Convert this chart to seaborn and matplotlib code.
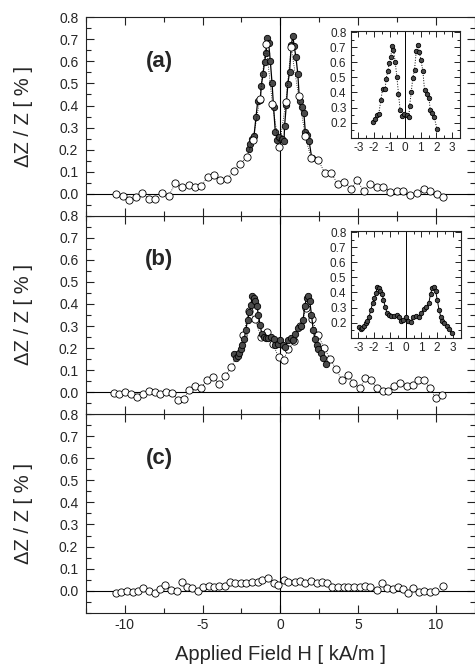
import numpy as np
import pandas as pd
import matplotlib
matplotlib.use("Agg")
import matplotlib.pyplot as plt
import seaborn as sns
from matplotlib.ticker import MultipleLocator

# ---------------- data ----------------
open_a_x = [-10.57, -10.14, -9.71, -9.30, -8.90, -8.47, -8.06, -7.61, -7.18, -6.75,
            -6.33, -5.90, -5.47, -5.10, -4.68, -4.28, -3.86, -3.43, -3.00, -2.60,
            -2.15, -1.75, -1.31, -0.92, -0.50, -0.07, 0.36, 0.70, 1.18, 1.62,
            1.98, 2.43, 2.87, 3.28, 3.71, 4.13, 4.57, 4.93, 5.36, 5.79,
            6.21, 6.64, 7.07, 7.50, 7.93, 8.36, 8.78, 9.22, 9.65, 10.07, 10.50]
open_a_y = [0.0, -0.01, -0.03, -0.014, 0.005, -0.023, -0.023, 0.005, -0.01, 0.047,
            0.03, 0.04, 0.032, 0.033, 0.077, 0.087, 0.064, 0.067, 0.105, 0.135,
            0.167, 0.245, 0.43, 0.68, 0.405, 0.21, 0.416, 0.665, 0.443, 0.26,
            0.16, 0.155, 0.093, 0.093, 0.043, 0.055, 0.022, 0.06, 0.014, 0.044,
            0.032, 0.032, 0.009, 0.014, 0.014, -0.005, 0.001, 0.022, 0.011, -0.001, -0.017]

fill_a_x = [-2.04, -1.93, -1.82, -1.69, -1.56, -1.45, -1.28, -1.22, -1.11, -1.01,
            -0.92, -0.85, -0.75, -0.64, -0.53, -0.43, -0.32, -0.19, -0.06, 0.11,
            0.24, 0.28, 0.39, 0.49, 0.60, 0.71, 0.81, 0.90, 1.01, 1.13,
            1.24, 1.39, 1.52, 1.61, 1.73, 1.86, 2.03]
fill_a_y = [0.204, 0.226, 0.248, 0.26, 0.348, 0.42, 0.426, 0.49, 0.543, 0.596,
            0.636, 0.707, 0.685, 0.602, 0.503, 0.393, 0.282, 0.242, 0.255, 0.248,
            0.237, 0.308, 0.403, 0.499, 0.552, 0.676, 0.714, 0.669, 0.618, 0.543,
            0.419, 0.393, 0.366, 0.282, 0.264, 0.237, 0.16]

open_b_x = [-10.72, -10.36, -9.97, -9.58, -9.22, -8.86, -8.47, -8.08, -7.72, -7.36,
            -6.97, -6.58, -6.22, -5.85, -5.47, -5.08, -4.72, -4.33, -3.92, -3.54,
            -3.15, -2.77, -2.38, -2.00, -1.62, -1.24, -0.86, -0.48, -0.11, 0.21,
            0.53, 0.91, 1.29, 1.67, 2.05, 2.43, 2.82, 3.21, 3.58, 3.96,
            4.35, 4.71, 5.14, 5.46, 5.85, 6.21, 6.58, 6.96, 7.35, 7.72,
            8.14, 8.51, 8.85, 9.22, 9.65, 10.01, 10.39]
open_b_y = [-0.003, -0.01, 0.0, -0.007, -0.02, -0.007, 0.005, 0.0, -0.007, 0.003,
            -0.005, -0.035, -0.03, 0.011, 0.026, 0.02, 0.056, 0.068, 0.038, 0.073,
            0.113, 0.17, 0.26, 0.37, 0.33, 0.25, 0.272, 0.22, 0.159, 0.147,
            0.197, 0.23, 0.30, 0.38, 0.33, 0.26, 0.20, 0.151, 0.106, 0.055,
            0.08, 0.041, 0.018, 0.063, 0.053, 0.018, 0.005, 0.005, 0.03, 0.041,
            0.027, 0.033, 0.053, 0.057, 0.018, -0.027, -0.012]

fill_b_x = [-2.97, -2.86, -2.75, -2.64, -2.53, -2.43, -2.32, -2.21, -2.10, -1.99,
            -1.88, -1.82, -1.71, -1.60, -1.49, -1.41, -1.30, -1.19, -1.06, -0.91,
            -0.76, -0.58, -0.42, -0.31, -0.16, 0.00, 0.17, 0.32, 0.49, 0.67,
            0.82, 0.97, 1.14, 1.32, 1.47, 1.58, 1.69, 1.79, 1.90, 2.01,
            2.12, 2.23, 2.34, 2.44, 2.60, 2.77, 2.92]
fill_b_y = [0.174, 0.157, 0.163, 0.178, 0.196, 0.213, 0.24, 0.284, 0.329, 0.362,
            0.395, 0.435, 0.428, 0.412, 0.39, 0.35, 0.306, 0.266, 0.251, 0.244,
            0.244, 0.251, 0.24, 0.213, 0.218, 0.236, 0.213, 0.207, 0.236, 0.244,
            0.236, 0.263, 0.289, 0.302, 0.329, 0.39, 0.428, 0.435, 0.412, 0.35,
            0.284, 0.24, 0.213, 0.196, 0.178, 0.157, 0.13]

open_c_x = [-10.57, -10.23, -9.86, -9.48, -9.16, -8.86, -8.47, -8.08, -7.72, -7.40,
            -7.01, -6.65, -6.33, -6.01, -5.68, -5.32, -4.98, -4.61, -4.29, -3.92,
            -3.54, -3.26, -2.89, -2.53, -2.19, -1.83, -1.46, -1.18, -0.82, -0.43,
            -0.15, 0.21, 0.53, 0.92, 1.28, 1.61, 1.99, 2.36, 2.68, 3.04,
            3.32, 3.70, 4.07, 4.39, 4.76, 5.10, 5.47, 5.79, 6.21, 6.53,
            6.86, 7.24, 7.56, 7.88, 8.20, 8.57, 8.94, 9.28, 9.65, 9.97, 10.50]
open_c_y = [-0.012, -0.005, 0.0, -0.005, 0.0, 0.014, 0.0, -0.012, 0.006, 0.026,
            0.003, 0.0, 0.041, 0.015, 0.014, 0.0, 0.015, 0.023, 0.018, 0.021,
            0.021, 0.038, 0.033, 0.033, 0.033, 0.041, 0.041, 0.048, 0.056, 0.036,
            0.026, 0.048, 0.041, 0.041, 0.045, 0.036, 0.045, 0.033, 0.041, 0.033,
            0.018, 0.018, 0.015, 0.018, 0.015, 0.015, 0.021, 0.018, 0.003, 0.033,
            0.011, 0.006, 0.015, 0.006, -0.009, 0.011, -0.005, 0.0, -0.005, 0.0, 0.021]

panel_labels = ["(a)", "(b)", "(c)"]
ylabel_text = "ΔZ / Z [ % ]"
xlabel_text = "Applied Field H [ kA/m ]"
main_yticks = [0.0, 0.1, 0.2, 0.3, 0.4, 0.5, 0.6, 0.7, 0.8]
main_xticks = [-10, -5, 0, 5, 10]
inset_xticks = [-3, -2, -1, 0, 1, 2, 3]
inset_yticks = [0.2, 0.3, 0.4, 0.5, 0.6, 0.7, 0.8]

# ---------------- style ----------------
sns.set_style("ticks")
plt.rcParams["font.family"] = ["Liberation Sans", "DejaVu Sans"]
plt.rcParams["axes.unicode_minus"] = False
plt.rcParams["axes.linewidth"] = 0.8
plt.rcParams["axes.edgecolor"] = "#222222"

fig = plt.figure(figsize=(4.75, 6.68), dpi=100)

L, W = 0.181, 0.818
H = 0.2971
B0 = 0.0828
ax_c = fig.add_axes([L, B0, W, H])
ax_b = fig.add_axes([L, B0 + H, W, H])
ax_a = fig.add_axes([L, B0 + 2 * H, W, H])

open_kw = dict(marker="o", markersize=5.2, markerfacecolor="white",
               markeredgecolor="black", markeredgewidth=0.6, color="black",
               linewidth=0.6, linestyle=":")
fill_kw = dict(marker="o", markersize=4.6, markerfacecolor="#4a4a4a",
               markeredgecolor="black", markeredgewidth=0.6, color="black",
               linewidth=0.9, linestyle="-")
fill_kw_small = dict(fill_kw, markersize=3.2, linewidth=0.7, linestyle=":")


def style_main(ax, show_xlabels):
    ax.set_xlim(-12.5, 12.5)
    ax.set_ylim(-0.1, 0.8)
    ax.set_yticks(main_yticks)
    ax.yaxis.set_minor_locator(MultipleLocator(0.05))
    ax.set_xticks(main_xticks)
    ax.xaxis.set_minor_locator(MultipleLocator(2.5))
    ax.tick_params(which="both", direction="in", top=True, right=True,
                   color="#222222", width=0.8)
    ax.tick_params(which="major", length=6)
    ax.tick_params(which="minor", length=3.5)
    ax.tick_params(axis="y", labelsize=10, pad=5.5)
    ax.tick_params(axis="x", labelsize=10, pad=3.5, labelbottom=show_xlabels)
    ax.axhline(0, color="black", linewidth=0.8, zorder=1)
    ax.axvline(0, color="black", linewidth=0.8, zorder=1)
    ax.set_ylabel(ylabel_text, fontsize=14.5)
    ax.yaxis.set_label_coords(-0.137, 0.5)
    ax.set_xlabel("")


def style_inset(ax):
    ax.set_xlim(-3.5, 3.5)
    ax.set_ylim(0.1, 0.81)
    ax.set_xticks(inset_xticks)
    ax.set_yticks(inset_yticks)
    ax.xaxis.set_minor_locator(MultipleLocator(0.5))
    ax.yaxis.set_minor_locator(MultipleLocator(0.05))
    ax.tick_params(which="both", direction="in", top=True, right=True,
                   color="#222222", width=0.7, labelsize=8.5, pad=3)
    ax.tick_params(which="major", length=4)
    ax.tick_params(which="minor", length=2.5)
    ax.axvline(0, color="black", linewidth=0.7, zorder=1)
    ax.set_xlabel("")
    ax.set_ylabel("")


# Panel (a)
sns.lineplot(x=fill_a_x, y=fill_a_y, sort=False, estimator=None, ax=ax_a, zorder=3, **fill_kw)
sns.lineplot(x=open_a_x, y=open_a_y, sort=False, estimator=None, ax=ax_a, zorder=4, **open_kw)
style_main(ax_a, False)

# Panel (b)
sns.lineplot(x=open_b_x, y=open_b_y, sort=False, estimator=None, ax=ax_b, zorder=3, **open_kw)
sns.lineplot(x=fill_b_x, y=fill_b_y, sort=False, estimator=None, ax=ax_b, zorder=4, **fill_kw)
style_main(ax_b, False)

# Panel (c)
sns.lineplot(x=open_c_x, y=open_c_y, sort=False, estimator=None, ax=ax_c, zorder=3,
             **dict(open_kw, linestyle="none"))
style_main(ax_c, True)
ax_c.set_xlabel(xlabel_text, fontsize=14.5)
ax_c.xaxis.set_label_coords(0.5, -0.165)

for ax, lab in zip([ax_a, ax_b, ax_c], panel_labels):
    ax.text(-7.8, 0.6, lab, fontsize=16, fontweight="bold", ha="center", va="center")

# Insets
in_a = fig.add_axes([0.738, 0.7939, 0.230, 0.1602])
sns.lineplot(x=fill_a_x, y=fill_a_y, sort=False, estimator=None, ax=in_a, zorder=3, **fill_kw_small)
style_inset(in_a)

in_b = fig.add_axes([0.738, 0.4945, 0.232, 0.1602])
sns.lineplot(x=fill_b_x, y=fill_b_y, sort=False, estimator=None, ax=in_b, zorder=3,
             **dict(fill_kw_small, linestyle="-"))
style_inset(in_b)

fig.savefig("out.png", dpi=100)
